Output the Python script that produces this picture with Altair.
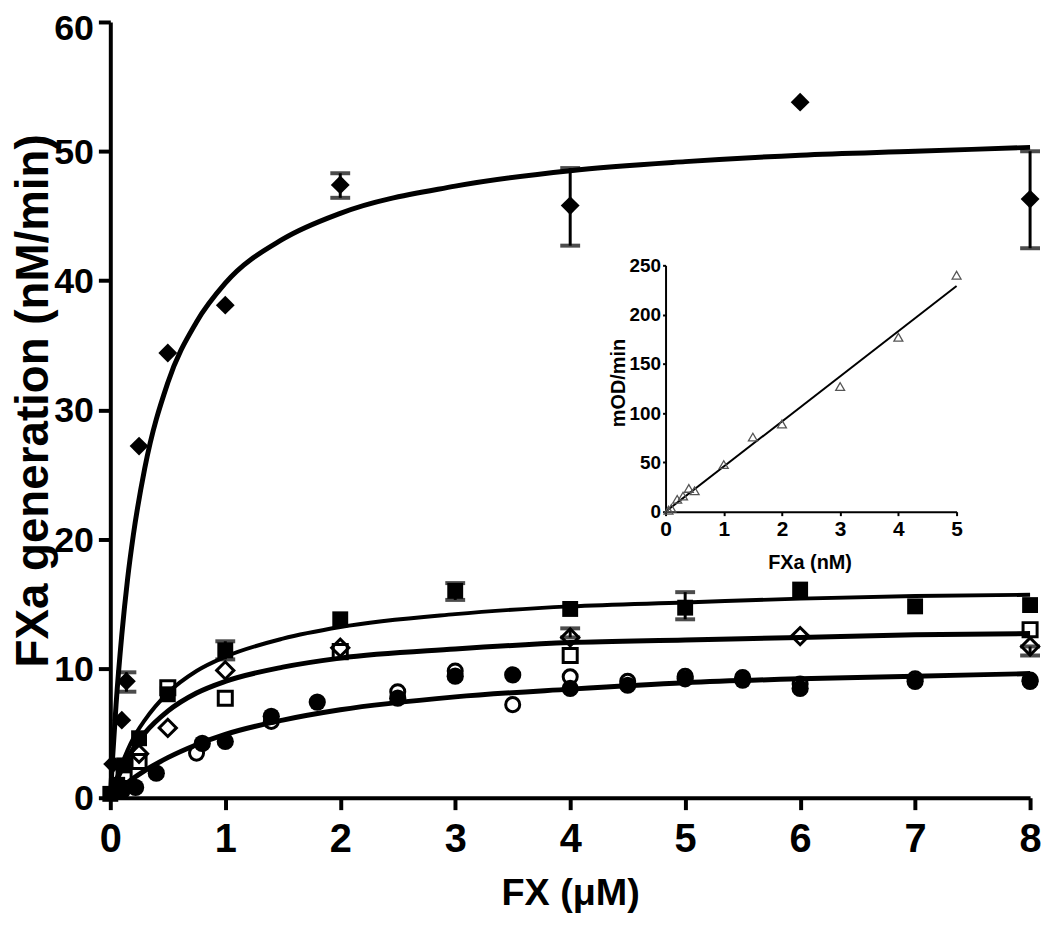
import altair as alt
import pandas as pd

FONT = "Liberation Sans"

# ---------------- main panel data ----------------
# filled diamonds
fd_x = [0.02, 0.1, 0.14, 0.25, 0.5, 1, 2, 4, 6, 8]
fd_y = [2.6, 6.0, 9.0, 27.2, 34.4, 38.1, 47.4, 45.8, 53.8, 46.3]
# filled squares
fs_x = [0, 0.06, 0.12, 0.25, 0.5, 1, 2, 3, 4, 5, 6, 7, 8]
fs_y = [0.3, 1.0, 2.5, 4.6, 8.0, 11.4, 13.8, 16.0, 14.6, 14.7, 16.1, 14.8, 14.9]
# open squares
os_x = [0.12, 0.25, 0.5, 1, 2, 4, 8]
os_y = [1.8, 2.8, 8.5, 7.7, 11.3, 11.0, 13.0]
# open diamonds
od_x = [0.25, 0.5, 1, 2, 4, 6, 8]
od_y = [3.4, 5.4, 9.85, 11.6, 12.4, 12.5, 11.7]
# filled circles
fc_x = [0.1, 0.22, 0.4, 0.8, 1.0, 1.4, 1.8, 2.5, 3, 3.5, 4, 4.5, 5, 5.5, 6, 7, 8]
fc_y = [0.5, 0.8, 1.9, 4.2, 4.35, 6.3, 7.4, 7.7, 9.4, 9.5, 8.45, 8.7, 9.2, 9.1, 8.45, 9.0, 9.0]
# open circles
oc_x = [0.75, 1.4, 2.5, 3, 3.5, 4, 4.5, 5, 5.5, 6, 7, 8]
oc_y = [3.45, 5.9, 8.2, 9.8, 7.2, 9.35, 9.0, 9.4, 9.3, 8.8, 9.2, 9.1]

# error bars
err_x = [0.14, 2, 4, 8, 1, 3, 5, 4, 8]
err_lo = [8.2, 46.4, 42.7, 42.5, 10.7, 15.3, 13.8, 12.4, 11.0]
err_hi = [9.7, 48.3, 48.7, 50.0, 12.1, 16.6, 15.9, 13.1, 11.7]

# fitted curves
top_x = [0, 0.02, 0.05, 0.1, 0.15, 0.2, 0.3, 0.5, 0.75, 1, 1.5, 2, 3, 4, 5, 6, 7, 8]
top_y = [0, 3.1, 7.2, 12.6, 16.9, 20.3, 25.5, 32.1, 36.8, 39.8, 43.2, 45.2, 47.3, 48.5, 49.2, 49.7, 50.0, 50.3]
cx = [0, 0.05, 0.1, 0.2, 0.3, 0.5, 0.75, 1, 1.5, 2, 3, 4, 5, 6, 7, 8]
sq_curve = [0, 1.4, 2.6, 4.6, 6.0, 8.1, 9.8, 10.9, 12.3, 13.2, 14.2, 14.8, 15.1, 15.4, 15.6, 15.7]
mid_curve = [0, 1.2, 2.2, 3.8, 5.0, 6.7, 8.1, 9.0, 10.1, 10.8, 11.5, 12.0, 12.2, 12.4, 12.6, 12.7]
low_curve = [0, 0.4, 0.8, 1.5, 2.1, 3.1, 4.1, 4.9, 6.0, 6.8, 7.8, 8.4, 8.9, 9.2, 9.4, 9.6]

# ---------------- inset data ----------------
in_x = [0.05, 0.1, 0.2, 0.3, 0.4, 0.5, 1, 1.5, 2, 3, 4, 5]
in_y = [1.5, 3.4, 12.5, 15.8, 23.6, 21.2, 47.8, 75.7, 89, 127, 177, 240]
in_line_x = [0, 5]
in_line_y = [0, 229]

x_ticks = [0, 1, 2, 3, 4, 5, 6, 7, 8]
y_ticks = [0, 10, 20, 30, 40, 50, 60]
ix_ticks = [0, 1, 2, 3, 4, 5]
iy_ticks = [0, 50, 100, 150, 200, 250]

# ---------------- scales / axes ----------------
xs = alt.Scale(domain=[0, 8], nice=False, zero=False)
ys = alt.Scale(domain=[0, 60], nice=False, zero=False)

xaxis = alt.Axis(values=x_ticks, title="FX (μM)", grid=False, orient="bottom",
                 domainWidth=4, domainColor="black", tickWidth=4, tickSize=12, tickColor="black",
                 labelFont=FONT, labelFontSize=40, labelFontWeight="bold", labelColor="black",
                 labelPadding=10, labelFlush=False, labelOverlap=False,
                 titleFont=FONT, titleFontSize=38, titleFontWeight="bold", titleColor="black",
                 titleY=108, titleBaseline="alphabetic", titleAlign="center")
yaxis = alt.Axis(values=y_ticks, title="FXa generation (nM/min)", grid=False, orient="left",
                 domainWidth=4, domainColor="black", tickWidth=4, tickSize=12, tickColor="black",
                 labelFont=FONT, labelFontSize=36, labelFontWeight="bold", labelColor="black",
                 labelPadding=5,
                 labelOffset={"condition": {"test": "datum.value == 60", "value": 7}, "value": 1},
                 labelFlush=False, labelOverlap=False,
                 titleFont=FONT, titleFontSize=46, titleFontWeight="bold", titleColor="black",
                 titleX=-77, titleY=381, titleAngle=270, titleAlign="center", titleBaseline="middle")

X = lambda f: alt.X(f, type="quantitative", scale=xs, axis=xaxis)
Y = lambda f: alt.Y(f, type="quantitative", scale=ys, axis=yaxis)

def pts(xv, yv):
    return pd.DataFrame({"x": xv, "y": yv})

curves = []
for cxv, cyv, w in [(top_x, top_y, 5), (cx, sq_curve, 4), (cx, mid_curve, 5), (cx, low_curve, 5)]:
    curves.append(alt.Chart(pts(cxv, cyv)).mark_line(color="black", strokeWidth=w, interpolate="monotone")
                  .encode(x=X("x"), y=Y("y")))

err_df = pd.DataFrame({"x": err_x, "lo": err_lo, "hi": err_hi})
err_rule = alt.Chart(err_df).mark_rule(color="black", strokeWidth=3).encode(x=X("x"), y=Y("lo"), y2="hi")
cap_lo = alt.Chart(err_df).mark_tick(color="black", thickness=4, size=20, orient="horizontal").encode(x=X("x"), y=Y("lo"))
cap_hi = alt.Chart(err_df).mark_tick(color="black", thickness=4, size=20, orient="horizontal").encode(x=X("x"), y=Y("hi"))

def filled(xv, yv, shape, size):
    return alt.Chart(pts(xv, yv)).mark_point(shape=shape, size=size, filled=True, color="black", opacity=1).encode(x=X("x"), y=Y("y"))

def hollow(xv, yv, shape, size):
    return alt.Chart(pts(xv, yv)).mark_point(shape=shape, size=size, filled=False, color="black",
                                             strokeWidth=3, opacity=1).encode(x=X("x"), y=Y("y"))

main = alt.layer(
    *curves, err_rule, cap_lo, cap_hi,
    filled(fd_x, fd_y, "diamond", 360),
    filled(fs_x, fs_y, "square", 256),
    filled(fc_x, fc_y, "circle", 300),
    hollow(os_x, os_y, "square", 200),
    hollow(od_x, od_y, "diamond", 300),
    hollow(oc_x, oc_y, "circle", 200),
)

# ---------------- inset (pixel ranges inside the main plot area) ----------------
ixs = alt.Scale(domain=[0, 5], range=[559, 852], nice=False, zero=False)
iys = alt.Scale(domain=[0, 250], range=[493, 245], nice=False, zero=False)
ixaxis = alt.Axis(orient="bottom", offset=-288, values=ix_ticks, title="FXa (nM)", grid=False,
                  domainWidth=2, domainColor="black", tickWidth=2, tickSize=4, tickColor="black",
                  labelFont=FONT, labelFontSize=21, labelFontWeight="bold", labelColor="black",
                  labelPadding=3, labelFlush=False,
                  titleFont=FONT, titleFontSize=20, titleFontWeight="bold", titleColor="black",
                  titleX=704, titleY=51, titleBaseline="middle", titleAlign="center")
iyaxis = alt.Axis(orient="left", offset=-559, values=iy_ticks, title="mOD/min", grid=False,
                  domainWidth=2, domainColor="black", tickWidth=2, tickSize=3, tickColor="black",
                  labelFont=FONT, labelFontSize=19, labelFontWeight="bold", labelColor="black",
                  labelPadding=2, labelFlush=False,
                  titleFont=FONT, titleFontSize=20, titleFontWeight="bold", titleColor="black",
                  titleX=-47, titleY=363, titleAngle=270, titleAlign="center", titleBaseline="middle")

inset_line = alt.Chart(pd.DataFrame({"ix": in_line_x, "iy": in_line_y})).mark_line(color="black", strokeWidth=2).encode(
    x=alt.X("ix:Q", scale=ixs, axis=ixaxis), y=alt.Y("iy:Q", scale=iys, axis=iyaxis))
inset_pts = alt.Chart(pd.DataFrame({"ix": in_x, "iy": in_y})).mark_point(
    shape="triangle-up", size=80, filled=False, color="#555555", strokeWidth=1.3, opacity=1).encode(
    x=alt.X("ix:Q", scale=ixs, axis=ixaxis), y=alt.Y("iy:Q", scale=iys, axis=iyaxis))
inset = alt.layer(inset_line, inset_pts)

chart = alt.layer(main, inset).resolve_scale(x="independent", y="independent").properties(
    width=926, height=781,
    autosize=alt.AutoSizeParams(type="none"),
    padding={"left": 103, "top": 11, "right": 12, "bottom": 116},
    background="white",
).configure_view(stroke=None)

chart.save("out.html", embed_options={"renderer": "svg", "actions": False})
